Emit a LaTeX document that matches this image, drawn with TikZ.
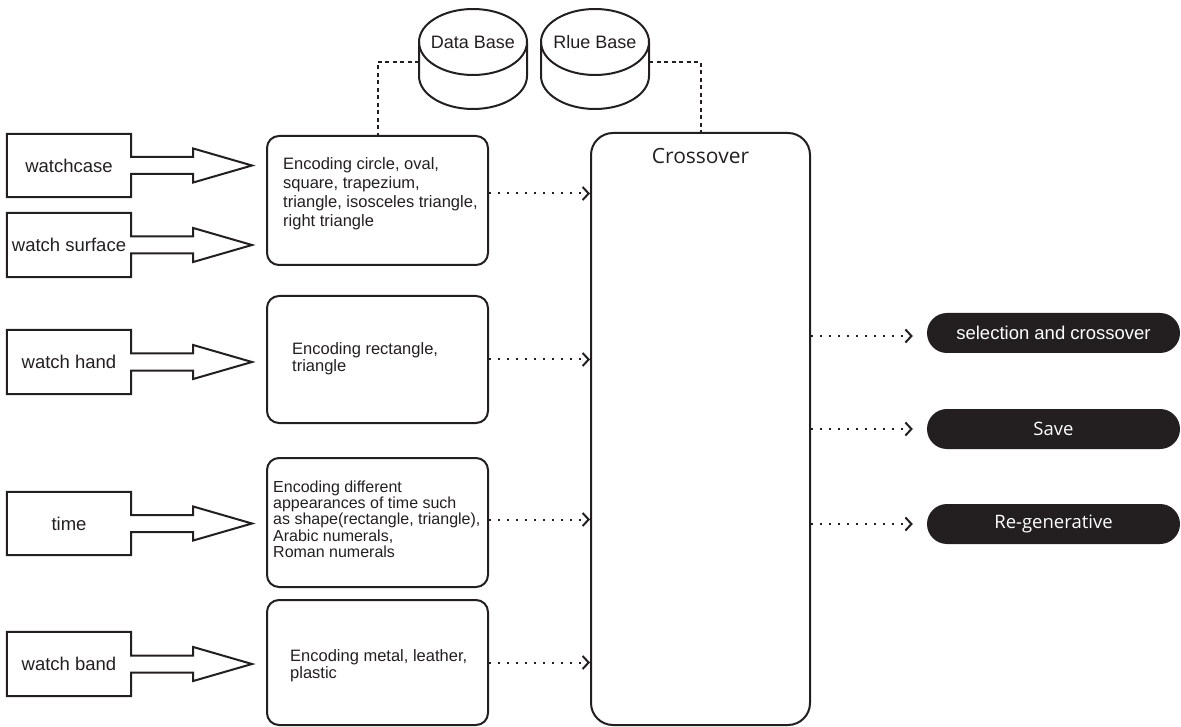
\documentclass[tikz,border=0pt]{standalone}
\usepackage{fontspec}
\setmainfont{Liberation Sans}
\newfontfamily\crossfont{Open Sans}
\usetikzlibrary{arrows.meta,positioning,shapes.geometric,calc}
\definecolor{ink}{HTML}{231F20}
% outline of a part box together with its fat arrow
\newcommand{\partarrow}[2]{%
  \draw[ink,line width=2pt,line join=miter] (#1.south east) -- (#1.south west) -- (#1.north west) -- (#1.north east)
    -- ([yshift=8.5pt]#1.east) -- ++(62pt,0pt) -- ++(0pt,8.5pt)
    -- ($(#2.west |- #1.east)+(-14pt,0pt)$)
    -- ($(#1.east)+(62pt,-17pt)$) -- ++(0pt,8.5pt) -- ([yshift=-8.5pt]#1.east) -- cycle;}
% cylinder drawn round a base node
\newcommand{\basecyl}[1]{%
  \draw[ink,line width=2pt] (#1.center) ellipse[x radius=54pt,y radius=33pt];
  \draw[ink,line width=2pt] (#1.west) -- ++(0pt,-34pt) arc[start angle=180,end angle=360,x radius=54pt,y radius=33pt] -- (#1.east);}

\begin{document}
\begin{tikzpicture}[x=1pt,y=-1pt,
part/.style={minimum width=124pt,minimum height=64pt,inner sep=0pt,text=ink,font=\fontsize{18.5}{22}\selectfont},
enc/.style={draw=ink,line width=2pt,rounded corners=12pt,minimum width=221pt,minimum height=129pt,inner sep=0pt},
enctext/.style={anchor=west,align=left,inner sep=0pt,text=ink,font=\fontsize{16.5}{19}\selectfont},
disk/.style={minimum width=108pt,minimum height=66pt,inner sep=0pt,outer sep=0pt,text=ink,font=\fontsize{18}{21}\selectfont},
pill/.style={fill=ink,rounded corners=20pt,minimum width=253pt,minimum height=40pt,text=white,font=\fontsize{18.5}{22}\selectfont},
feed/.style={-{Straight Barb[length=6pt,width=13pt,line width=2pt]},ink,line width=2pt,dash pattern=on 2pt off 7pt},
link/.style={ink,line width=2pt,dash pattern=on 4pt off 3.5pt}]

\useasboundingbox (0,0) rectangle (1181,727);

% data and rule bases
\node[disk] (db) at (473,42) {Data Base};
\node[disk] (rb) at (595,42) {Rlue Base};
\basecyl{db}
\basecyl{rb}

% watch parts
\node[part,minimum height=63pt] (wcase) at (69,165.5) {watchcase};
\node[part] (wsurf) at (69,245) {watch surface};
\node[part] (whand) at (69,362) {watch hand};
\node[part,minimum height=63pt] (wtime) at (69,523.5) {time};
\node[part] (wband) at (69,664) {watch band};

% encodings
\node[enc] (shapeenc) at (377.5,200.5) {};
\node[enc,minimum height=127pt] (handenc) at (377.5,359.5) {};
\node[enc] (timeenc) at (377.5,522.5) {};
\node[enc,minimum height=125pt] (bandenc) at (377.5,662.5) {};

\node[enctext] (shapetxt) at (283,194) {Encoding circle, oval,\\square, trapezium,\\triangle, isosceles triangle,\\right triangle};
\node[enctext,font=\fontsize{16.5}{17}\selectfont] (handtxt) at (292,358.5) {Encoding rectangle,\\triangle};
\node[enctext,font=\fontsize{16}{16.3}\selectfont] (timetxt) at (273,519) {Encoding different\\appearances of time such\\as shape(rectangle, triangle),\\Arabic numerals,\\Roman numerals};
\node[enctext,font=\fontsize{16.5}{17}\selectfont] (bandtxt) at (290,666) {Encoding metal, leather,\\plastic};

\node[enc,rounded corners=22pt,minimum width=219pt,minimum height=592pt,
  label={[anchor=north,yshift=-13pt,text=ink,font=\crossfont\fontsize{21}{24}\selectfont]north:Crossover}] (cross) at (700.5,429) {};

% operations
\node[pill] (sel) at (1053.5,333) {selection and crossover};
\node[pill,font=\crossfont\fontsize{18.5}{22}\selectfont] (save) at (1053.5,429) {Save};
\node[pill,font=\crossfont\fontsize{18.5}{22}\selectfont] (regen) at (1053.5,524) {Re-generative};

\partarrow{wcase}{shapeenc}
\partarrow{wsurf}{shapeenc}
\partarrow{whand}{handenc}
\partarrow{wtime}{timeenc}
\partarrow{wband}{bandenc}

\draw[link] ([yshift=-20pt]db.west) -| (shapeenc.north);
\draw[link] ([yshift=-20pt]rb.east) -| (cross.north);

\draw[feed] ($(shapeenc.east)+(0pt,7pt)$) -- ($(shapeenc.east -| cross.west)+(0pt,7pt)$);
\draw[feed] (handenc.east) -- (handenc.east -| cross.west);
\draw[feed] ($(timeenc.east)+(0pt,3pt)$) -- ($(timeenc.east -| cross.west)+(0pt,3pt)$);
\draw[feed] (bandenc.east) -- (bandenc.east -| cross.west);

\draw[feed,shorten >=14pt] ($(cross.east |- sel)+(0pt,-3pt)$) -- ($(sel.west)+(0pt,-3pt)$);
\draw[feed,shorten >=14pt] (cross.east |- save) -- (save.west);
\draw[feed,shorten >=14pt] (cross.east |- regen) -- (regen.west);
\end{tikzpicture}
\end{document}
